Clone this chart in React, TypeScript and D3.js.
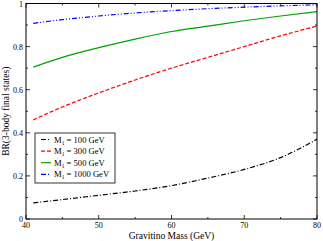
import React from "react";
import * as d3 from "d3";

const masses = [41, 45, 50, 55, 60, 65, 70, 75, 80];
const br100 = [0.075, 0.09, 0.11, 0.13, 0.155, 0.19, 0.23, 0.285, 0.37];
const br300 = [0.46, 0.52, 0.585, 0.645, 0.7, 0.75, 0.8, 0.85, 0.895];
const br500 = [0.705, 0.75, 0.795, 0.835, 0.87, 0.895, 0.92, 0.942, 0.962];
const br1000 = [0.908, 0.925, 0.942, 0.956, 0.967, 0.976, 0.983, 0.989, 0.994];
const seriesLabels = ["100", "300", "500", "1000"];
const xTicks = [40, 50, 60, 70, 80];
const yTicks = [0, 0.2, 0.4, 0.6, 0.8, 1];
const yTickLabels = ["0", "0.2", "0.4", "0.6", "0.8", "1"];

const styles = [
  { color: "#000000", dash: "5,2,1,2" },
  { color: "#ff0000", dash: "4,2" },
  { color: "#00a000", dash: "" },
  { color: "#0000ff", dash: "5,2,1,2,1,2" },
];

export default function App() {
  const W = 323, H = 241;
  const L = 26, R = 317, T = 3.5, B = 219;
  const x = d3.scaleLinear().domain([40, 80]).range([L, R]);
  const y = d3.scaleLinear().domain([0, 1]).range([B, T]);
  const line = d3
    .line<number>()
    .x((_, i) => x(masses[i]))
    .y((d) => y(d))
    .curve(d3.curveMonotoneX);
  const data = [br100, br300, br500, br1000];
  const xMinor = d3.range(40, 81, 5);
  const yMinor = d3.range(0, 1.001, 0.1);
  const font = "'Liberation Serif', 'DejaVu Serif', serif";
  return (
    <svg width={W} height={H} style={{ position: "absolute", left: 0, top: 0 }} fontFamily={font}>
      <rect x={0} y={0} width={W} height={H} fill="#fff" />
      {data.map((d, i) => (
        <path key={i} d={line(d) || ""} fill="none" stroke={styles[i].color} strokeWidth={1.2} strokeDasharray={styles[i].dash} />
      ))}
      <rect x={L} y={T} width={R - L} height={B - T} fill="none" stroke="#000" strokeWidth={1} />
      {xMinor.map((v) => {
        const len = v % 10 === 0 ? 4 : 2;
        return (
          <g key={"xt" + v}>
            <line x1={x(v)} x2={x(v)} y1={B} y2={B - len} stroke="#000" strokeWidth={0.8} />
            <line x1={x(v)} x2={x(v)} y1={T} y2={T + len} stroke="#000" strokeWidth={0.8} />
          </g>
        );
      })}
      {yMinor.map((v, i) => {
        const len = i % 2 === 0 ? 4 : 2;
        return (
          <g key={"yt" + i}>
            <line x1={L} x2={L + len} y1={y(v)} y2={y(v)} stroke="#000" strokeWidth={0.8} />
            <line x1={R} x2={R - len} y1={y(v)} y2={y(v)} stroke="#000" strokeWidth={0.8} />
          </g>
        );
      })}
      {xTicks.map((v) => (
        <text key={"xl" + v} x={x(v)} y={B + 9} fontSize={8} textAnchor="middle">{v}</text>
      ))}
      {yTicks.map((v, i) => (
        <text key={"yl" + v} x={L - 3} y={y(v) + 3} fontSize={8} textAnchor="end">{yTickLabels[i]}</text>
      ))}
      <text x={(L + R) / 2} y={239} fontSize={9.5} textAnchor="middle">Gravitino Mass (GeV)</text>
      <text transform={`translate(8.5,${(T + B) / 2}) rotate(-90)`} fontSize={9.5} textAnchor="middle">BR(3-body final states)</text>
      <g>
        <rect x={35} y={133} width={80} height={50} fill="#fff" stroke="#000" strokeWidth={0.8} />
        {seriesLabels.map((s, i) => {
          const yy = 139.5 + i * 11.6;
          return (
            <g key={"lg" + i}>
              <line x1={41} x2={51} y1={yy} y2={yy} stroke={styles[i].color} strokeWidth={1.2} strokeDasharray={styles[i].dash} />
              <text x={54} y={yy + 3} fontSize={8.6}>
                M<tspan fontSize={5.5} dy={2}>1</tspan><tspan dy={-2}> = {s} GeV</tspan>
              </text>
            </g>
          );
        })}
      </g>
    </svg>
  );
}
